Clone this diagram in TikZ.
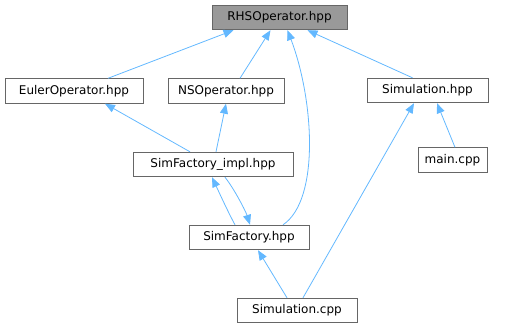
\documentclass[tikz,border=0pt]{standalone}
\usepackage{fontspec}
\setmainfont{DejaVu Sans}
\usetikzlibrary{arrows.meta}
\definecolor{edgeblue}{HTML}{63B8FF}
\definecolor{boxborder}{HTML}{666666}
\definecolor{rootfill}{HTML}{999999}
\begin{document}
\begin{tikzpicture}[x=1pt,y=-1pt,
  box/.style={draw=boxborder, line width=0.9pt, fill=white, inner sep=0pt, minimum height=24.5pt, font=\fontsize{12}{14}\selectfont},
  rootbox/.style={box, fill=rootfill},
  edge/.style={draw=edgeblue, line width=0.8pt, -{Triangle[length=10pt,width=8pt]}}]
\useasboundingbox (0,0) rectangle (507,329);
\node[rootbox, minimum width=135pt] (rhs) at (279.5,17.5) {RHSOperator.hpp};
\node[box, minimum width=138pt] (euler) at (74,91) {EulerOperator.hpp};
\node[box, minimum width=116pt] (ns) at (226,91) {NSOperator.hpp};
\node[box, minimum width=121pt] (simh) at (427.5,90.5) {Simulation.hpp};
\node[box, minimum width=69pt] (main) at (452.5,160) {main.cpp};
\node[box, minimum width=160pt] (impl) at (213,164.5) {SimFactory\_impl.hpp};
\node[box, minimum width=120pt] (sf) at (249,237.5) {SimFactory.hpp};
\node[box, minimum width=120pt] (simc) at (297,310.5) {Simulation.cpp};

\draw[edge] ([xshift=34pt]euler.north) -- ([xshift=-46pt]rhs.south);
\draw[edge] ([xshift=14pt]ns.north) -- ([xshift=-9pt]rhs.south);
\draw[edge] ([xshift=-15pt]simh.north) -- ([xshift=28pt]rhs.south);
\draw[edge] ([xshift=34pt]sf.north) .. controls (320,200) and (314,100) .. ([xshift=8pt]rhs.south);
\draw[edge] ([xshift=-23pt]impl.north) -- ([xshift=31pt]euler.south);
\draw[edge] ([xshift=3pt]impl.north) -- (ns.south);
\draw[edge] ([xshift=-14pt]sf.north) .. controls (228,212) and (218,190) .. ([xshift=-1pt]impl.south);
\draw[edge] ([xshift=12pt]impl.south) .. controls (235,190) and (246,212) .. ([xshift=1pt]sf.north);
\draw[edge] ([xshift=2.5pt]main.north) -- ([xshift=9.5pt]simh.south);
\draw[edge] ([xshift=6pt]simc.north) -- ([xshift=-13.5pt]simh.south);
\draw[edge] ([xshift=-10pt]simc.north) -- ([xshift=9pt]sf.south);
\end{tikzpicture}
\end{document}
